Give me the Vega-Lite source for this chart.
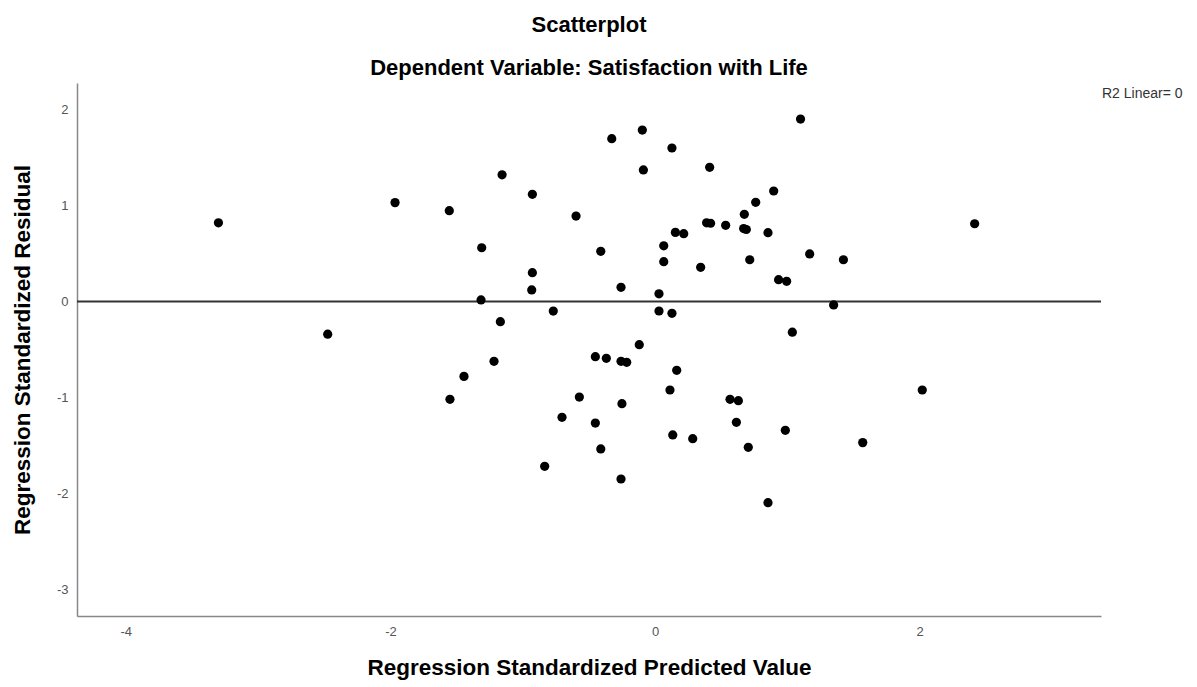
{
  "$schema": "https://vega.github.io/schema/vega-lite/v6.json",
  "autosize": "none",
  "width": 1024,
  "height": 533,
  "padding": {"left": 77, "top": 83, "right": 96, "bottom": 71},
  "background": "white",
  "title": {
    "text": "Scatterplot",
    "subtitle": "Dependent Variable: Satisfaction with Life",
    "anchor": "middle",
    "font": "Liberation Sans",
    "fontSize": 22,
    "fontWeight": "bold",
    "color": "#000000",
    "subtitleFont": "Liberation Sans",
    "subtitleFontSize": 22,
    "subtitleFontWeight": "bold",
    "subtitleColor": "#000000",
    "subtitlePadding": 21,
    "offset": 3
  },
  "config": {
    "view": {"stroke": null},
    "axis": {
      "grid": false,
      "ticks": false,
      "domainColor": "#888888",
      "domainWidth": 1.5,
      "labelFont": "Liberation Sans",
      "labelFontSize": 13,
      "labelColor": "#555555",
      "labelPadding": 9,
      "labelExpr": "'' + datum.value",
      "titleFont": "Liberation Sans",
      "titleFontSize": 22.5,
      "titleFontWeight": "bold",
      "titleColor": "#000000"
    }
  },
  "data": {
    "values": [
      {"predicted": -3.30, "residual": 0.82},
      {"predicted": -2.474, "residual": -0.34},
      {"predicted": -1.965, "residual": 1.03},
      {"predicted": -1.555, "residual": 0.946},
      {"predicted": -1.156, "residual": 1.32},
      {"predicted": -0.927, "residual": 1.117},
      {"predicted": -1.31, "residual": 0.56},
      {"predicted": -0.597, "residual": 0.89},
      {"predicted": -0.327, "residual": 1.696},
      {"predicted": -0.096, "residual": 1.786},
      {"predicted": 0.128, "residual": 1.599},
      {"predicted": -0.088, "residual": 1.37},
      {"predicted": 0.413, "residual": 1.398},
      {"predicted": 1.10, "residual": 1.90},
      {"predicted": 0.897, "residual": 1.151},
      {"predicted": 0.761, "residual": 1.033},
      {"predicted": 0.675, "residual": 0.908},
      {"predicted": 0.67, "residual": 0.76},
      {"predicted": 0.69, "residual": 0.75},
      {"predicted": 0.854, "residual": 0.717},
      {"predicted": 0.534, "residual": 0.794},
      {"predicted": 0.39, "residual": 0.82},
      {"predicted": 0.42, "residual": 0.815},
      {"predicted": 0.154, "residual": 0.72},
      {"predicted": 0.217, "residual": 0.706},
      {"predicted": 0.066, "residual": 0.58},
      {"predicted": 0.066, "residual": 0.415},
      {"predicted": 0.345, "residual": 0.356},
      {"predicted": 0.716, "residual": 0.435},
      {"predicted": 0.934, "residual": 0.227},
      {"predicted": 0.995, "residual": 0.21},
      {"predicted": -0.41, "residual": 0.523},
      {"predicted": -0.927, "residual": 0.30},
      {"predicted": -0.932, "residual": 0.12},
      {"predicted": -1.315, "residual": 0.016},
      {"predicted": -0.257, "residual": 0.148},
      {"predicted": 0.03, "residual": 0.08},
      {"predicted": 0.03, "residual": -0.099},
      {"predicted": 0.128, "residual": -0.123},
      {"predicted": -0.769, "residual": -0.10},
      {"predicted": -1.169, "residual": -0.21},
      {"predicted": 1.038, "residual": -0.32},
      {"predicted": -0.119, "residual": -0.45},
      {"predicted": -0.451, "residual": -0.575},
      {"predicted": -0.368, "residual": -0.592},
      {"predicted": -0.257, "residual": -0.623},
      {"predicted": -0.214, "residual": -0.633},
      {"predicted": -1.217, "residual": -0.623},
      {"predicted": -1.444, "residual": -0.78},
      {"predicted": 0.164, "residual": -0.717},
      {"predicted": 2.416, "residual": 0.81},
      {"predicted": 1.169, "residual": 0.495},
      {"predicted": 1.424, "residual": 0.435},
      {"predicted": 1.35, "residual": -0.036},
      {"predicted": -1.55, "residual": -1.019},
      {"predicted": -0.572, "residual": -0.995},
      {"predicted": -0.25, "residual": -1.064},
      {"predicted": 0.113, "residual": -0.922},
      {"predicted": 0.567, "residual": -1.019},
      {"predicted": 0.63, "residual": -1.033},
      {"predicted": -0.703, "residual": -1.206},
      {"predicted": -0.451, "residual": -1.266},
      {"predicted": 0.615, "residual": -1.259},
      {"predicted": 0.985, "residual": -1.342},
      {"predicted": 0.134, "residual": -1.39},
      {"predicted": 0.285, "residual": -1.429},
      {"predicted": 0.705, "residual": -1.519},
      {"predicted": -0.41, "residual": -1.536},
      {"predicted": -0.834, "residual": -1.717},
      {"predicted": -0.257, "residual": -1.849},
      {"predicted": 0.854, "residual": -2.096},
      {"predicted": 2.02, "residual": -0.922},
      {"predicted": 1.57, "residual": -1.47}
    ]
  },
  "layer": [
    {
      "data": {"values": [{"label": "zero"}]},
      "mark": {"type": "rule", "color": "#333333", "strokeWidth": 2},
      "encoding": {
        "y": {"datum": 0, "type": "quantitative", "scale": {"domain": [-3.276, 2.276], "nice": false, "zero": false}}
      }
    },
    {
      "mark": {"type": "circle", "color": "#000000", "opacity": 1, "size": 85},
      "encoding": {
        "x": {
          "field": "predicted",
          "type": "quantitative",
          "title": "Regression Standardized Predicted Value",
          "scale": {"domain": [-4.369, 3.371], "nice": false, "zero": false},
          "axis": {"values": [-4, -2, 0, 2], "titlePadding": 18}
        },
        "y": {
          "field": "residual",
          "type": "quantitative",
          "title": "Regression Standardized Residual",
          "scale": {"domain": [-3.276, 2.276], "nice": false, "zero": false},
          "axis": {"values": [-3, -2, -1, 0, 1, 2], "titlePadding": 22}
        }
      }
    },
    {
      "data": {"values": [{"label": "R2 Linear= 0"}]},
      "mark": {"type": "text", "align": "left", "baseline": "middle", "dx": 1, "font": "Liberation Sans", "fontSize": 14, "color": "#333333"},
      "encoding": {
        "text": {"field": "label"},
        "x": {"datum": 3.371, "type": "quantitative"},
        "y": {"datum": 2.16, "type": "quantitative"}
      }
    }
  ]
}
